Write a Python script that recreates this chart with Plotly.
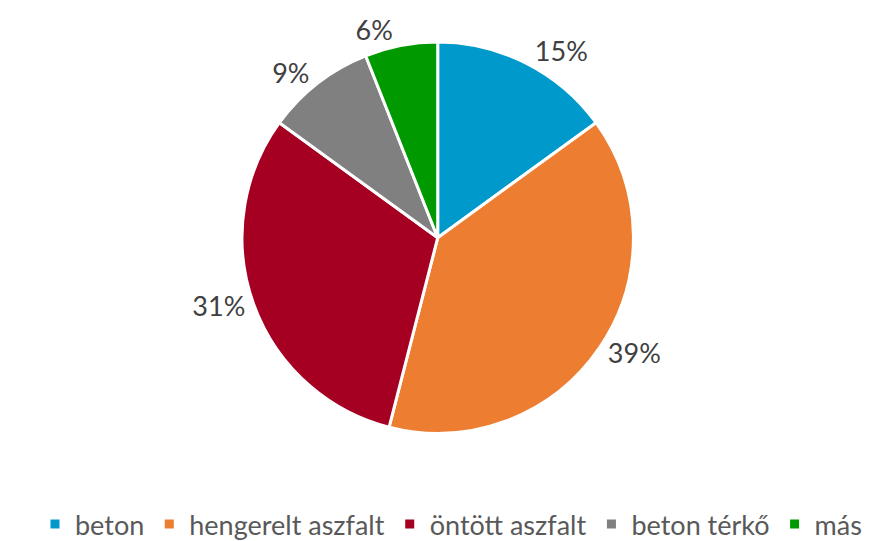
import plotly.graph_objects as go

categories = ["beton", "hengerelt aszfalt", "öntött aszfalt", "beton térkő", "más"]
values = [15, 39, 31, 9, 6]
colors = ["#0099CC", "#ED7D31", "#A50021", "#808080", "#009900"]

fig = go.Figure(go.Pie(
    labels=categories,
    values=values,
    sort=False,
    direction="clockwise",
    rotation=0,
    marker=dict(colors=colors, line=dict(color="white", width=3)),
    textinfo="percent",
    texttemplate="%{percent:.0%}",
    textposition="outside",
    textfont=dict(family="Lato, Open Sans, sans-serif", size=27, color="#404040"),
    domain=dict(x=[0.22, 0.75], y=[0.228, 1.0]),
    showlegend=True,
    hoverinfo="label+percent",
))

fig.update_layout(
    width=886,
    height=541,
    margin=dict(l=0, r=0, t=0, b=0),
    paper_bgcolor="white",
    plot_bgcolor="white",
    legend=dict(
        orientation="h",
        x=0.5, xanchor="center",
        y=0.0, yanchor="bottom",
        font=dict(family="Lato, Open Sans, sans-serif", size=27, color="#595959"),
        itemwidth=30,
        traceorder="normal",
    ),
)

fig.write_html("out.html")
